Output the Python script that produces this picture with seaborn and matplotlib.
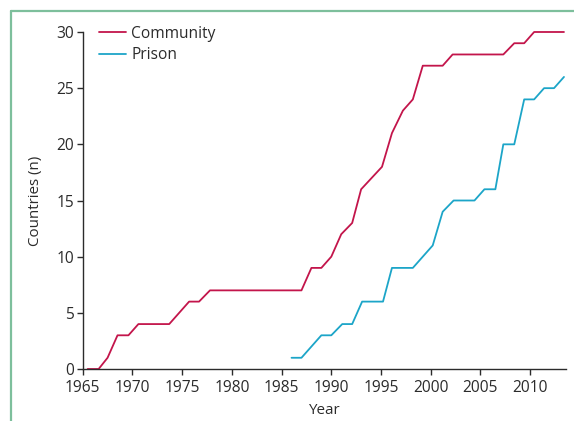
import pandas as pd
import numpy as np
import matplotlib
matplotlib.use("Agg")
import matplotlib.pyplot as plt
from matplotlib.lines import Line2D
import seaborn as sns

# cumulative number of countries, vertices
community_year = [1965.5, 1966.6, 1967.5, 1968.5, 1969.6, 1970.6, 1973.7, 1975.7, 1976.7,
                  1977.8, 1987.0, 1988.0, 1989.0, 1990.0, 1991.0, 1992.1, 1993.0, 1995.1,
                  1996.1, 1997.2, 1998.2, 1999.2, 2001.2, 2002.2, 2007.3, 2008.4, 2009.4,
                  2010.4, 2013.4]
community_n = [0, 0, 1, 3, 3, 4, 4, 6, 6,
               7, 7, 9, 9, 10, 12, 13, 16, 18,
               21, 23, 24, 27, 27, 28, 28, 29, 29,
               30, 30]

prison_year = [1986.0, 1987.0, 1989.0, 1990.0, 1991.1, 1992.1, 1993.1, 1995.2, 1996.1,
               1998.2, 1999.2, 2000.2, 2001.2, 2002.3, 2004.4, 2005.4, 2006.5, 2007.3,
               2008.4, 2009.4, 2010.4, 2011.4, 2012.4, 2013.4]
prison_n = [1, 1, 3, 3, 4, 4, 6, 6, 9,
            9, 10, 11, 14, 15, 15, 16, 16, 20,
            20, 24, 24, 25, 25, 26]

df = pd.concat([
    pd.DataFrame({"Year": community_year, "Countries": community_n, "Setting": "Community"}),
    pd.DataFrame({"Year": prison_year, "Countries": prison_n, "Setting": "Prison"}),
])

sns.set_style("ticks")
plt.rcParams["font.family"] = ["Open Sans", "DejaVu Sans"]
text_col = "#2b2b2b"
fs = 11.2

fig = plt.figure(figsize=(5.74, 4.21), dpi=100)
ax = fig.add_axes([0.1441, 0.1235, 0.986 - 0.1441, 0.924 - 0.1235])

sns.lineplot(data=df, x="Year", y="Countries", hue="Setting", estimator=None, sort=False,
             palette={"Community": "#c3154b", "Prison": "#1ca5c8"}, linewidth=1.3, ax=ax)
for ln in ax.lines:
    ln.set_clip_on(False)

ax.set_xlim(1965, 2013.6)
ax.set_ylim(0, 30)
ax.set_xticks(np.arange(1965, 2011, 5))
ax.set_yticks(np.arange(0, 31, 5))
ax.tick_params(direction="out", length=4, width=1, colors=text_col, labelsize=fs)
ax.tick_params(axis="x", pad=4)
ax.tick_params(axis="y", pad=2)
for s in ["top", "right"]:
    ax.spines[s].set_visible(False)
for s in ["left", "bottom"]:
    ax.spines[s].set_color(text_col)
    ax.spines[s].set_linewidth(1)

ax.set_xlabel("Year", fontsize=fs - 0.3, color=text_col, labelpad=5)
ax.set_ylabel("Countries (n)", fontsize=fs - 0.3, color=text_col, labelpad=10)

ax.legend(title=None, loc="upper left", bbox_to_anchor=(0.034, 1.018), frameon=False,
          borderaxespad=0, borderpad=0, fontsize=fs, handlelength=1.7,
          handletextpad=0.35, labelspacing=0.35, labelcolor=text_col)

# green frame at top and left
green = "#7dbf9c"
fig.add_artist(Line2D([11 / 574, 1], [1 - 11 / 421, 1 - 11 / 421], color=green, lw=1.6))
fig.add_artist(Line2D([11 / 574, 11 / 574], [0, 1 - 11 / 421], color=green, lw=1.6))

fig.savefig("out.png", dpi=100)
